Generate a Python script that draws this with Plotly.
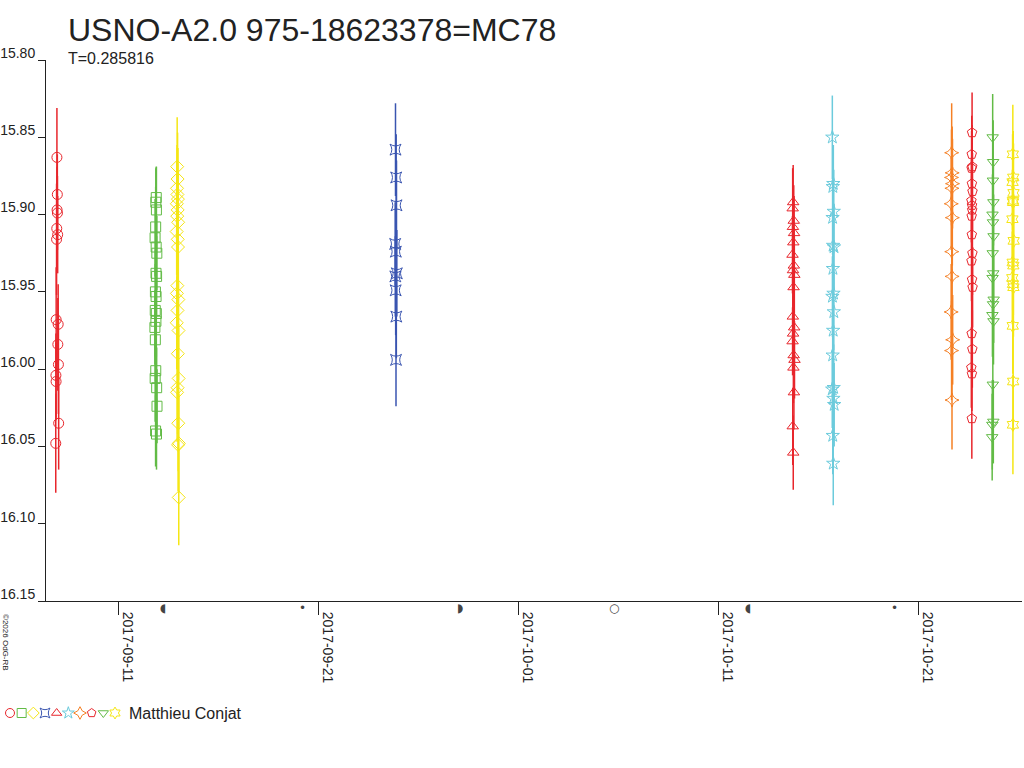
import pandas as pd
import plotly.graph_objects as go

W, H = 1024, 768
FONT = "Liberation Sans"

# ---- data --------------------------------------------------------------
# each night: base date, hours after 00:00 of that date, magnitude, error

rc_date = "2017-09-07"
rc_hours = [22.7, 23.2, 22.9, 23.3, 22.5, 23.6, 22.3, 21.8, 24.2, 23.8, 24.5, 21.5, 21.7, 24.8, 21.3]
rc_mag = [15.863, 15.887, 15.897, 15.899, 15.909, 15.913, 15.916, 15.968, 15.971, 15.984,
          15.997, 16.004, 16.008, 16.035, 16.048]
rc_err = [0.032, 0.026, 0.028, 0.024, 0.027, 0.025, 0.036, 0.034, 0.026, 0.030,
          0.032, 0.027, 0.025, 0.030, 0.032]

gs_date = "2017-09-12"
gs_hours = [21.9, 21.4, 22.1, 21.2, 20.5, 21.8, 22.6, 21.6, 22.3, 20.9, 21.7,
            20.7, 22.0, 21.5, 20.3, 20.8, 21.3, 20.6, 22.4, 22.8, 21.1, 22.2]
gs_mag = [15.889, 15.892, 15.897, 15.908, 15.915, 15.921, 15.925, 15.938, 15.940, 15.950, 15.953,
          15.962, 15.964, 15.969, 15.973, 15.981, 16.001, 16.006, 16.012, 16.024, 16.040, 16.042]
gs_err = [0.020, 0.022, 0.028, 0.026, 0.025, 0.028, 0.024, 0.030, 0.026, 0.027, 0.025,
          0.030, 0.028, 0.026, 0.024, 0.027, 0.025, 0.028, 0.026, 0.024, 0.023, 0.023]

yd_date = "2017-09-13"
yd_hours = [23.0, 23.5, 22.8, 23.3, 23.9, 22.6, 23.6, 23.1, 24.2, 22.4, 23.7, 24.0, 23.2,
            22.7, 24.4, 23.4, 22.5, 24.6, 23.8, 24.8, 23.5, 22.9, 24.3, 25.0, 24.1, 24.9]
yd_mag = [15.869, 15.877, 15.883, 15.887, 15.890, 15.893, 15.897, 15.901, 15.905, 15.911, 15.916,
          15.921, 15.946, 15.951, 15.955, 15.962, 15.970, 15.975, 15.990, 16.006, 16.012, 16.015,
          16.035, 16.048, 16.049, 16.083]
yd_err = [0.032, 0.030, 0.028, 0.030, 0.033, 0.027, 0.030, 0.029, 0.031, 0.028, 0.030,
          0.032, 0.030, 0.028, 0.031, 0.029, 0.030, 0.032, 0.031, 0.033, 0.030, 0.032,
          0.031, 0.032, 0.030, 0.031]

bq_date = "2017-09-24"
bq_hours = [21.0, 21.8, 22.2, 20.6, 21.4, 22.6, 20.8, 21.2, 22.0, 21.6]
bq_mag = [15.858, 15.876, 15.894, 15.919, 15.924, 15.938, 15.940, 15.949, 15.966, 15.994]
bq_err = [0.030, 0.028, 0.029, 0.027, 0.030, 0.028, 0.026, 0.029, 0.027, 0.030]

rt_date = "2017-10-14"
rt_hours = [18.2, 17.6, 18.9, 17.9, 19.3, 18.4, 17.4, 19.0, 18.0, 19.6, 18.7,
            17.8, 19.4, 18.1, 17.5, 18.8, 19.8, 18.5, 19.1, 17.7, 18.3]
rt_mag = [15.892, 15.896, 15.904, 15.908, 15.912, 15.918, 15.926, 15.933, 15.936, 15.939, 15.947,
          15.966, 15.973, 15.977, 15.982, 15.991, 15.994, 15.999, 16.015, 16.037, 16.054]
rt_err = [0.024, 0.026, 0.023, 0.025, 0.024, 0.022, 0.025, 0.024, 0.023, 0.025, 0.024,
          0.023, 0.025, 0.024, 0.022, 0.024, 0.025, 0.023, 0.024, 0.025, 0.024]

cs_date = "2017-10-16"
cs_hours = [17.2, 18.4, 17.8, 18.9, 17.5, 18.1, 19.2, 17.9, 18.6, 17.3,
            19.0, 18.2, 17.6, 18.8, 17.1, 18.5, 19.4, 17.7, 18.3]
cs_mag = [15.850, 15.880, 15.882, 15.898, 15.902, 15.920, 15.921, 15.935, 15.951, 15.953,
          15.963, 15.975, 15.991, 16.012, 16.013, 16.019, 16.023, 16.043, 16.061]
cs_err = [0.027, 0.025, 0.026, 0.027, 0.024, 0.026, 0.028, 0.025, 0.027, 0.026,
          0.025, 0.027, 0.026, 0.028, 0.025, 0.026, 0.027, 0.025, 0.027]

od_date = "2017-10-22"
od_hours = [16.4, 17.0, 16.2, 17.4, 16.7, 15.9, 17.2, 16.5, 16.9, 15.8, 17.6, 16.3, 16.8]
od_mag = [15.860, 15.873, 15.876, 15.880, 15.883, 15.893, 15.902, 15.924, 15.940, 15.963,
          15.981, 15.988, 16.020]
od_err = [0.032, 0.030, 0.031, 0.029, 0.032, 0.030, 0.031, 0.032, 0.030, 0.031, 0.029, 0.032, 0.032]

rp_date = "2017-10-23"
rp_hours = [16.9, 16.5, 17.1, 16.3, 16.7, 17.4, 16.1, 16.8, 17.0, 16.4,
            16.6, 17.3, 16.2, 16.9, 17.5, 16.4, 17.2, 16.0, 16.7, 16.6]
rp_mag = [15.847, 15.861, 15.869, 15.870, 15.880, 15.885, 15.891, 15.894, 15.897, 15.901,
          15.913, 15.925, 15.930, 15.942, 15.947, 15.977, 15.987, 15.999, 16.003, 16.032]
rp_err = [0.026, 0.025, 0.027, 0.024, 0.026, 0.025, 0.027, 0.026, 0.024, 0.026,
          0.025, 0.027, 0.026, 0.025, 0.026, 0.027, 0.025, 0.026, 0.024, 0.026]

gt_date = "2017-10-24"
gt_hours = [17.6, 18.2, 17.9, 18.5, 17.4, 18.0, 18.7, 17.7, 18.3,
            17.5, 18.8, 18.1, 17.3, 18.6, 17.8, 18.4, 17.2, 17.0]
gt_mag = [15.850, 15.866, 15.878, 15.892, 15.900, 15.905, 15.914, 15.925, 15.938,
          15.941, 15.955, 15.958, 15.965, 15.969, 16.010, 16.034, 16.036, 16.044]
gt_err = [0.028, 0.027, 0.029, 0.028, 0.026, 0.028, 0.027, 0.029, 0.028,
          0.027, 0.028, 0.029, 0.027, 0.028, 0.028, 0.027, 0.029, 0.028]

ys_date = "2017-10-25"
ys_hours = [17.8, 18.3, 17.5, 18.6, 17.9, 18.1, 17.3, 18.8, 17.6, 18.4, 17.2, 18.0, 18.5, 17.7, 18.2, 17.9]
ys_mag = [15.861, 15.876, 15.879, 15.886, 15.891, 15.892, 15.903, 15.917, 15.931, 15.933,
          15.941, 15.945, 15.947, 15.972, 16.008, 16.036]
ys_err = [0.032, 0.030, 0.031, 0.032, 0.029, 0.031, 0.032, 0.030, 0.031, 0.032,
          0.030, 0.031, 0.032, 0.031, 0.032, 0.032]

# moon phases shown under the time axis
moon_dates = ["2017-09-13 06:25", "2017-09-20 05:30", "2017-09-28 02:54",
              "2017-10-05 18:40", "2017-10-12 12:25", "2017-10-19 19:12"]
moon_glyphs = ["◖", "•", "◗", "○", "◖", "•"]

y_ticks = [15.80, 15.85, 15.90, 15.95, 16.00, 16.05, 16.10, 16.15]

RED = "#e8262c"
GREEN = "#62bb46"
YELLOW = "#f5e614"
BLUE = "#3a55b0"
CYAN = "#6ccbdc"
ORANGE = "#f58025"

series = [
    (rc_date, rc_hours, rc_mag, rc_err, RED, "circle-open"),
    (gs_date, gs_hours, gs_mag, gs_err, GREEN, "square-open"),
    (yd_date, yd_hours, yd_mag, yd_err, YELLOW, "diamond-open"),
    (bq_date, bq_hours, bq_mag, bq_err, BLUE, "star-square-open"),
    (rt_date, rt_hours, rt_mag, rt_err, RED, "triangle-up-open"),
    (cs_date, cs_hours, cs_mag, cs_err, CYAN, "star-open"),
    (od_date, od_hours, od_mag, od_err, ORANGE, "star-diamond-open"),
    (rp_date, rp_hours, rp_mag, rp_err, RED, "pentagon-open"),
    (gt_date, gt_hours, gt_mag, gt_err, GREEN, "triangle-down-open"),
    (ys_date, ys_hours, ys_mag, ys_err, YELLOW, "hexagram-open"),
]


def fx(px):
    # pixel from the left -> paper x
    return px / W


def fy(py):
    # pixel from the top -> paper y
    return 1 - py / H


fig = go.Figure()

for date, hours, mag, err, color, symbol in series:
    base = pd.Timestamp(date)
    times = [base + pd.Timedelta(hours=h) for h in hours]
    fig.add_trace(go.Scatter(
        x=times, y=mag, mode="markers",
        marker=dict(symbol=symbol, size=10, color=color, line=dict(width=1, color=color)),
        error_y=dict(type="data", array=err, visible=True, color=color, thickness=1.5, width=0),
        showlegend=False, hoverinfo="skip",
    ))

# legend row: the symbols one after another, then the observer
fig.add_trace(go.Scatter(
    x=list(range(len(series))), y=[0] * len(series), mode="markers",
    marker=dict(symbol=[s[5] for s in series], size=9, color=[s[4] for s in series],
                line=dict(width=1, color=[s[4] for s in series])),
    xaxis="x2", yaxis="y2", showlegend=False, hoverinfo="skip",
))

annotations = [
    dict(text="USNO-A2.0 975-18623378=MC78", x=fx(66), y=fy(30),
         xanchor="left", yanchor="middle", font=dict(size=32, color="#222")),
    dict(text="T=0.285816", x=fx(66), y=fy(58),
         xanchor="left", yanchor="middle", font=dict(size=16, color="#222")),
    dict(text="Matthieu Conjat", x=fx(127), y=fy(713),
         xanchor="left", yanchor="middle", font=dict(size=16, color="#222")),
    dict(text="©2026 OdG-RB", x=fx(6), y=fy(642),
         xanchor="center", yanchor="middle", textangle=90, font=dict(size=8, color="#222")),
]
for a in annotations:
    a.update(xref="paper", yref="paper", showarrow=False)

for d, g in zip(moon_dates, moon_glyphs):
    annotations.append(dict(text=g, x=d, y=fy(608), xref="x", yref="paper",
                            xanchor="center", yanchor="middle", showarrow=False,
                            font=dict(size=12, color="#444", family="DejaVu Sans")))

fig.update_layout(
    width=W, height=H,
    margin=dict(l=0, r=0, t=0, b=0),
    paper_bgcolor="white", plot_bgcolor="white",
    font=dict(family=FONT, color="#222", size=14),
    showlegend=False,
    annotations=annotations,
    xaxis=dict(
        domain=[fx(46), fx(1022)], type="date", automargin=False,
        range=["2017-09-07 09:36", "2017-10-26 04:48"],
        tick0="2017-09-11", dtick=10 * 86400000, tickformat="%Y-%m-%d",
        tickangle=90, ticks="outside", ticklen=13, tickcolor="#222",
        showline=True, linecolor="#222", linewidth=1,
        showgrid=False, zeroline=False, ticklabelshift=10, ticklabelstandoff=-6,
        tickfont=dict(size=14, color="#222"),
    ),
    yaxis=dict(
        domain=[fy(601), fy(60)], automargin=False,
        range=[16.15, 15.80], tickvals=y_ticks, tickformat=".2f",
        ticks="outside", ticklen=7, tickcolor="#222",
        showline=True, linecolor="#222", linewidth=1,
        showgrid=False, zeroline=False, ticklabelshift=7,
        tickfont=dict(size=14, color="#222"),
    ),
    # legend symbols sit 11.67 px apart starting at x = 10
    xaxis2=dict(domain=[0, 130 / W], range=[-0.857, 10.286], visible=False,
                anchor="y2", automargin=False),
    yaxis2=dict(domain=[fy(723), fy(703)], range=[-1, 1], visible=False,
                anchor="x2", automargin=False),
)

# drop the browser's default 8px body margin so the figure starts at the page corner
fig.write_html("out.html", config={"displayModeBar": False},
               post_script="document.body.style.margin = '0px';")
